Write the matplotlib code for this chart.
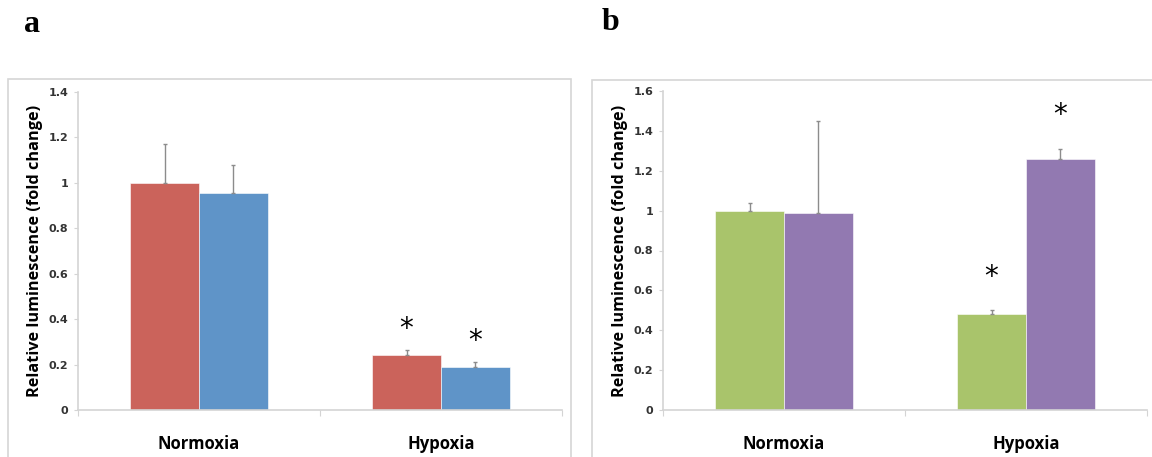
import matplotlib.pyplot as plt
from matplotlib.patches import Rectangle

# Luciferase assay: relative luminescence under normoxia / hypoxia
conditions = ['Normoxia', 'Hypoxia']

a_red = [1.0, 0.24]
a_red_err = [0.17, 0.025]
a_blue = [0.955, 0.19]
a_blue_err = [0.125, 0.02]
a_stars = [False, True]

b_green = [1.0, 0.48]
b_green_err = [0.04, 0.02]
b_purple = [0.99, 1.26]
b_purple_err = [0.46, 0.05]
b_stars = [False, True]

a_ticks = [0, 0.2, 0.4, 0.6, 0.8, 1, 1.2, 1.4]
b_ticks = [0, 0.2, 0.4, 0.6, 0.8, 1, 1.2, 1.4, 1.6]

RED = '#cb635b'
BLUE = '#5f94c8'
GREEN = '#a9c46b'
PURPLE = '#9279b1'
AXIS_GRAY = '#d4d4d4'
ERR_GRAY = '#8c8c8c'

W, H = 1152, 457
fig = plt.figure(figsize=(W / 100, H / 100), dpi=100)

# panel frames
fig.patches.append(Rectangle((8 / W, -0.05), 563 / W, 1.05 - 79 / H,
                             transform=fig.transFigure, fill=False,
                             edgecolor='#d6d6d6', lw=1.2))
fig.patches.append(Rectangle((592 / W, -0.05), 0.6, 1.05 - 80 / H,
                             transform=fig.transFigure, fill=False,
                             edgecolor='#d6d6d6', lw=1.2))

fig.text(32 / W, 1 - 25 / H, 'a', family='Liberation Serif', weight='bold',
         fontsize=23, ha='center', va='center')
fig.text(610 / W, 1 - 22 / H, 'b', family='Liberation Serif', weight='bold',
         fontsize=23, ha='center', va='center')

width = 0.285
x = [0, 1]


def panel(rect, s1, e1, s2, e2, c1, c2, ticks, stars, star_pad):
    ax = fig.add_axes(rect)
    xl = [i - width / 2 for i in x]
    xr = [i + width / 2 for i in x]
    ax.bar(xl, s1, width, color=c1, edgecolor='white', linewidth=0.4, zorder=2)
    ax.bar(xr, s2, width, color=c2, edgecolor='white', linewidth=0.4, zorder=2)
    for xs, vals, errs in ((xl, s1, e1), (xr, s2, e2)):
        ax.errorbar(xs, vals, yerr=[[0] * len(vals), errs], fmt='none',
                    ecolor=ERR_GRAY, elinewidth=1.0, capsize=1.5,
                    capthick=1.0, zorder=3)
    for i, flag in enumerate(stars):
        if flag:
            for xs, vals, errs in ((xl, s1, e1), (xr, s2, e2)):
                ax.annotate('*', (xs[i], vals[i] + errs[i]),
                            xytext=(0, star_pad), textcoords='offset points',
                            ha='center', va='center', fontsize=20,
                            family='DejaVu Sans')
    ax.set_xlim(-0.5, 1.5)
    ax.set_ylim(0, ticks[-1])
    ax.set_yticks(ticks)
    ax.set_yticklabels([f'{t:g}' for t in ticks], fontsize=8,
                       weight='bold', color='#333333')
    ax.set_xticks([-0.5, 0.5, 1.5], minor=False)
    ax.set_xticklabels([])
    ax.set_xticks(x, minor=True)
    ax.set_xticklabels(conditions, minor=True, fontsize=12, weight='bold',
                       family='Open Sans')
    ax.tick_params(axis='x', which='minor', length=0, pad=18)
    ax.tick_params(axis='x', which='major', length=4, color=AXIS_GRAY,
                   direction='out')
    ax.tick_params(axis='y', length=3, color=AXIS_GRAY, pad=4)
    for side in ('top', 'right'):
        ax.spines[side].set_visible(False)
    for side in ('left', 'bottom'):
        ax.spines[side].set_color(AXIS_GRAY)
        ax.spines[side].set_linewidth(1.2)
    ax.set_ylabel('Relative luminescence (fold change)', fontsize=11.7,
                  weight='bold', family='Open Sans', labelpad=4)
    return ax


panel([78 / W, 1 - 410 / H, 484 / W, 318 / H], a_red, a_red_err, a_blue,
      a_blue_err, RED, BLUE, a_ticks, a_stars, 15)
panel([663 / W, 1 - 410 / H, 484 / W, 319 / H], b_green, b_green_err,
      b_purple, b_purple_err, GREEN, PURPLE, b_ticks, b_stars, 24)

fig.savefig('out.png', dpi=100)
